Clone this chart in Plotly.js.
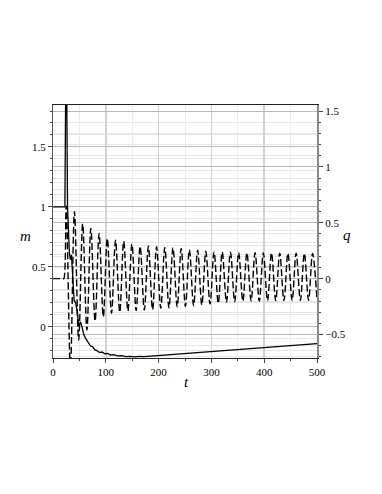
<!DOCTYPE html>
<html>
<head>
<meta charset="utf-8">
<script src="https://cdn.plot.ly/plotly-3.0.1.min.js"></script>
<style>
    html, body { margin: 0; padding: 0; background: white; }
    #chart { width: 382px; height: 494px; }
</style>
</head>
<body>
<div id="chart"></div>
<script>
// m(t), solid line, left axis
const mTime = [0, 21.5, 22.5, 25, 27.5, 31, 33, 35, 37.5, 40, 43, 46, 49, 52, 55, 58, 61, 64, 67, 71, 75, 79, 84, 88, 93, 98, 103, 109, 115, 122, 130, 138, 146, 155, 163, 172, 185, 200, 300, 400, 500];
const mValues = [1, 1, 1, 2.6, 1.0, 0.62, 0.56, 0.6, 0.4, 0.22, 0.2, 0.12, 0.0, 0.04, 0.0, -0.06, -0.09, -0.11, -0.14, -0.16, -0.165, -0.19, -0.2, -0.215, -0.21, -0.225, -0.222, -0.235, -0.232, -0.242, -0.24, -0.248, -0.246, -0.25, -0.247, -0.249, -0.244, -0.239, -0.205, -0.172, -0.14];

// q(t), dashed line, right axis (flat start, then peaks and troughs)
const qTime = [0, 8, 15, 19, 20.5, 25, 33,
    40.6, 48.6, 56.2, 64.2, 71.7, 79.7, 87.3, 95.3, 102.8, 110.8,
    118.4, 126.4, 133.9, 141.9, 149.5, 157.5, 165.0, 173.0, 180.6, 188.6,
    196.1, 204.1, 211.7, 219.7, 227.2, 235.2, 242.8, 250.8, 258.3, 266.3,
    273.9, 281.9, 289.4, 297.4, 305.0, 313.0, 320.5, 328.5, 336.1, 344.1,
    351.6, 359.6, 367.2, 375.2, 382.7, 390.7, 398.3, 406.3, 413.8, 421.8,
    429.4, 437.4, 444.9, 452.9, 460.5, 468.5, 476.0, 484.0, 491.6, 500];
const qValues = [0, 0, 0, 0, 0, 0.65, -0.8,
    0.6, -0.55, 0.49, -0.46, 0.45, -0.38, 0.405, -0.34, 0.36, -0.31,
    0.345, -0.3, 0.335, -0.29, 0.31, -0.285, 0.29, -0.28, 0.29, -0.278,
    0.285, -0.265, 0.28, -0.262, 0.278, -0.252, 0.27, -0.248, 0.26, -0.243,
    0.255, -0.235, 0.245, -0.227, 0.24, -0.22, 0.238, -0.212, 0.237, -0.206,
    0.235, -0.202, 0.232, -0.2, 0.232, -0.2, 0.23, -0.198, 0.23, -0.197,
    0.228, -0.196, 0.228, -0.195, 0.227, -0.194, 0.226, -0.193, 0.225, -0.19];

const xTicks = [0, 100, 200, 300, 400, 500];
const mTicks = [0, 0.5, 1, 1.5];
const qTicks = [-0.5, 0, 0.5, 1, 1.5];
const qTickText = ['\u22120.5', '0', '0.5', '1', '1.5'];

const serif = '"Liberation Serif", "Times New Roman", "DejaVu Serif", serif';

const traces = [
    {
        x: mTime, y: mValues,
        type: 'scatter', mode: 'lines',
        line: { color: 'black', width: 1.3 },
        yaxis: 'y', hoverinfo: 'skip'
    },
    {
        x: qTime, y: qValues,
        type: 'scatter', mode: 'lines',
        line: { color: 'black', width: 1.4, dash: '7px,3px', shape: 'spline', smoothing: 1 },
        yaxis: 'y2', hoverinfo: 'skip'
    }
];

const layout = {
    width: 382,
    height: 494,
    margin: { l: 52.5, r: 65.3, t: 104.7, b: 135.5 },
    paper_bgcolor: 'white',
    plot_bgcolor: 'white',
    showlegend: false,
    font: { family: serif, size: 11, color: 'black' },
    xaxis: {
        range: [0, 500],
        tickvals: xTicks,
        tickfont: { family: serif, size: 11, color: 'black' },
        ticks: 'outside', ticklen: 4, tickcolor: '#444',
        showline: true, linecolor: '#222', linewidth: 1, mirror: true,
        showgrid: true, gridcolor: '#d2d2d2', gridwidth: 1.5,
        zeroline: false,
        minor: { dtick: 50, showgrid: true, gridcolor: '#ececec', gridwidth: 1, ticks: 'outside', ticklen: 2, tickcolor: '#444' }
    },
    yaxis: {
        range: [-0.26, 1.85],
        tickvals: mTicks,
        tickfont: { family: serif, size: 11, color: 'black' },
        ticks: 'outside', ticklen: 4, tickcolor: '#444',
        showline: true, linecolor: '#555', linewidth: 1,
        showgrid: true, gridcolor: '#b8b8b8', gridwidth: 1,
        zeroline: false,
        minor: { dtick: 0.1, showgrid: true, gridcolor: '#e6e6e6', gridwidth: 1, ticks: 'outside', ticklen: 2, tickcolor: '#444' }
    },
    yaxis2: {
        range: [-0.71, 1.554],
        overlaying: 'y', side: 'right',
        tickvals: qTicks, ticktext: qTickText,
        tickfont: { family: serif, size: 11, color: 'black' },
        ticks: 'outside', ticklen: 4, tickcolor: '#444',
        showline: true, linecolor: '#888', linewidth: 2,
        showgrid: true, gridcolor: '#b8b8b8', gridwidth: 1,
        zeroline: false,
        minor: { dtick: 0.1, showgrid: true, gridcolor: '#e6e6e6', gridwidth: 1, ticks: 'outside', ticklen: 2, tickcolor: '#444' }
    },
    annotations: [
        { text: '<i>m</i>', xref: 'paper', yref: 'paper', x: -0.104, y: 0.483, xanchor: 'center', yanchor: 'middle', showarrow: false, font: { family: serif, size: 15 } },
        { text: '<i>q</i>', xref: 'paper', yref: 'paper', x: 1.113, y: 0.487, xanchor: 'center', yanchor: 'middle', showarrow: false, font: { family: serif, size: 15 } },
        { text: '<i>t</i>', xref: 'paper', yref: 'paper', x: 0.505, y: -0.0965, xanchor: 'center', yanchor: 'middle', showarrow: false, font: { family: serif, size: 15 } }
    ]
};

Plotly.newPlot('chart', traces, layout, { staticPlot: true, displayModeBar: false });
</script>
</body>
</html>
